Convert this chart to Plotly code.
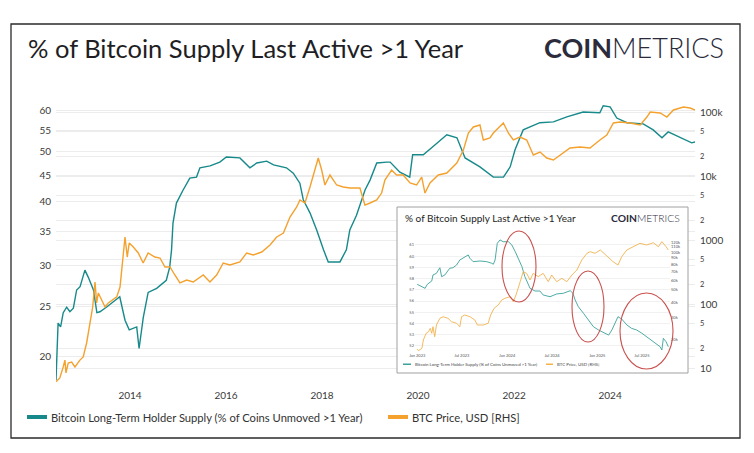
import plotly.graph_objects as go

# ---------------- data ----------------
lth_dates = ["2012-06-17","2012-07-03","2012-07-22","2012-08-11","2012-09-06","2012-10-01","2012-10-27",
    "2012-11-21","2012-12-17","2013-01-23","2013-02-17","2013-03-29","2013-04-24","2013-05-17","2013-07-05",
    "2013-08-25","2013-10-15","2013-11-24","2013-12-26","2014-02-21","2014-03-11","2014-04-12","2014-05-19",
    "2014-07-23","2014-10-04","2014-10-30","2014-11-13","2014-11-24","2014-12-20","2015-02-09","2015-04-01",
    "2015-05-22","2015-06-17","2015-09-02","2015-11-15","2016-01-04","2016-04-16","2016-07-01","2016-08-22",
    "2016-11-06","2016-12-28","2017-04-05","2017-05-27","2017-07-16","2017-08-11","2017-10-01","2017-11-21",
    "2018-01-12","2018-02-17","2018-03-29","2018-05-17","2018-07-05","2018-07-31","2018-09-20","2018-11-10",
    "2018-11-24","2019-01-01","2019-02-21","2019-05-08","2019-06-03","2019-08-16","2019-10-30","2019-11-21",
    "2020-02-10","2020-05-08","2020-08-07","2020-10-23","2020-12-24","2021-04-16","2021-07-27","2021-10-12",
    "2021-12-02","2022-01-08","2022-03-11","2022-07-16","2022-10-27","2023-02-06","2023-06-10","2023-10-15",
    "2023-11-10","2024-01-01","2024-02-21","2024-05-08","2024-09-09","2024-11-24","2025-01-30","2025-03-18",
    "2025-06-17","2025-09-13","2025-10-08"]
lth_pct = [17.96,23.2,22.8,24.3,24.9,24.4,24.8,26.9,27.3,29.4,28.5,26.9,24.3,24.4,24.9,25.5,26.1,23.5,22.5,
    22.8,20.7,23.8,26.6,27.1,28.1,29.8,32.2,36.3,39.7,42.1,44.4,44.6,46.5,46.9,47.7,48.8,48.6,46.5,47.5,47.9,
    47.1,46.5,45.4,43.4,40.3,38.0,35.2,32.2,30.5,30.5,30.5,32.2,35.2,37.6,40.8,42.1,44.0,47.5,47.7,47.7,45.6,
    44.6,49.3,49.3,51.5,53.9,53.2,48.6,46.7,44.6,44.6,46.7,50.4,55.1,56.9,57.1,58.4,59.7,59.5,61.4,61.1,58.1,
    56.9,56.6,55.1,53.2,54.6,53.2,52.0,52.2]

btc_dates = ["2012-06-17","2012-07-16","2012-08-11","2012-08-24","2012-09-01","2012-09-18","2012-10-14",
    "2012-11-08","2012-12-16","2013-01-10","2013-02-05","2013-03-02","2013-03-23","2013-04-10","2013-04-22",
    "2013-05-05","2013-05-31","2013-06-25","2013-07-20","2013-08-15","2013-09-22","2013-10-17","2013-11-06",
    "2013-11-24","2013-12-11","2013-12-26","2014-01-26","2014-03-05","2014-04-11","2014-05-19","2014-07-09",
    "2014-08-17","2014-09-24","2014-11-01","2014-12-08","2015-01-16","2015-03-08","2015-04-27","2015-07-12",
    "2015-09-01","2015-10-22","2015-12-11","2016-01-31","2016-04-16","2016-06-06","2016-07-27","2016-09-29",
    "2016-12-01","2017-01-21","2017-03-13","2017-05-02","2017-06-22","2017-07-17","2017-08-24","2017-10-01",
    "2017-11-08","2017-12-03","2017-12-29","2018-01-23","2018-03-02","2018-04-22","2018-06-11","2018-08-01",
    "2018-10-16","2018-11-23","2019-01-01","2019-02-21","2019-03-30","2019-04-24","2019-06-14","2019-07-22",
    "2019-09-10","2019-11-01","2019-12-21","2020-01-29","2020-02-23","2020-04-01","2020-06-03","2020-08-07",
    "2020-10-22","2020-12-11","2021-01-18","2021-02-25","2021-04-16","2021-05-12","2021-07-01","2021-07-27",
    "2021-10-11","2021-11-18","2021-12-26","2022-02-15","2022-04-07","2022-05-27","2022-07-17","2022-09-06",
    "2022-10-27","2022-12-17","2023-03-02","2023-05-17","2023-08-01","2023-10-16","2023-12-07","2024-01-26",
    "2024-03-17","2024-06-01","2024-08-17","2024-10-07","2024-11-01","2025-01-16","2025-03-08","2025-04-27",
    "2025-07-12","2025-09-01","2025-10-08"]
btc_usd = [6.1,7.0,10.4,13.3,8.4,12.0,12.4,10.4,13.3,14.9,24.6,50.5,89.7,221,104,149,115,90,104,115,129,184,
    437,1114,542,898,778,627,437,627,542,523,379,379,284,213,237,221,284,221,284,437,407,453,627,583,649,835,
    1114,1285,2287,3280,4217,3785,6730,12400,19100,12400,7230,10370,7230,6730,6490,6490,3520,3785,4217,5420,
    8660,12400,10370,10370,7780,7230,9640,5420,7780,10370,11140,15960,25480,46990,58340,62660,36520,39250,
    46990,67290,46990,36520,40660,36520,21300,23710,19100,17780,21300,27380,28390,27380,36520,43730,67290,
    69800,67290,62660,83500,100000,96400,83500,107500,119700,115500,107500]

# inset (zoomed 2023-2025 chart)
inset_lth_dates = ["2023-01-01","2023-01-13","2023-02-02","2023-02-11","2023-03-01","2023-03-06","2023-03-20",
    "2023-04-03","2023-04-10","2023-04-23","2023-05-13","2023-05-26","2023-06-10","2023-06-23","2023-07-13",
    "2023-07-27","2023-08-03","2023-08-16","2023-09-13","2023-10-10","2023-10-30","2023-11-06","2023-11-13",
    "2023-11-22","2023-12-03","2023-12-16","2024-01-06","2024-01-20","2024-02-03","2024-02-16","2024-03-01",
    "2024-03-13","2024-04-03","2024-04-23","2024-05-13","2024-05-26","2024-06-23","2024-07-20","2024-08-16",
    "2024-09-13","2024-09-24","2024-10-03","2024-10-16","2024-11-06","2024-11-26","2024-12-16","2025-01-06",
    "2025-01-26","2025-02-16","2025-03-01","2025-03-13","2025-03-26","2025-04-10","2025-05-01","2025-05-20",
    "2025-06-10","2025-07-01","2025-07-20","2025-08-16","2025-09-13","2025-09-20","2025-09-26","2025-10-07",
    "2025-10-16"]
inset_lth_pct = [57.49,57.37,57.13,57.49,57.79,58.32,58.47,58.97,58.17,58.32,58.92,58.97,59.21,59.66,59.96,
    60.11,59.81,59.51,59.57,59.51,59.37,59.28,59.66,61.15,61.45,61.29,61.29,61.0,60.40,59.81,59.06,58.17,
    57.13,56.89,56.89,56.54,56.38,56.63,56.69,56.92,56.69,56.09,55.49,54.90,54.30,53.71,53.41,53.17,52.96,
    53.41,54.01,54.60,54.39,53.86,53.56,53.41,53.12,52.81,52.37,51.92,51.63,52.67,52.37,51.92]

inset_btc_dates = ["2023-01-01","2023-01-06","2023-01-20","2023-01-26","2023-02-06","2023-02-16","2023-02-23",
    "2023-03-01","2023-03-06","2023-03-13","2023-03-20","2023-04-03","2023-04-16","2023-05-06","2023-05-20",
    "2023-06-10","2023-06-23","2023-06-30","2023-07-13","2023-08-03","2023-08-23","2023-09-02","2023-09-26",
    "2023-10-16","2023-10-26","2023-11-09","2023-11-26","2023-12-10","2023-12-23","2024-01-13","2024-01-26",
    "2024-02-06","2024-02-23","2024-03-06","2024-03-20","2024-04-03","2024-04-16","2024-05-06","2024-05-26",
    "2024-06-16","2024-06-30","2024-07-20","2024-08-10","2024-08-30","2024-09-20","2024-10-10","2024-10-30",
    "2024-11-20","2024-12-03","2024-12-23","2025-01-13","2025-02-10","2025-03-06","2025-03-26","2025-04-10",
    "2025-05-01","2025-05-26","2025-06-23","2025-07-20","2025-08-16","2025-09-06","2025-09-20","2025-10-07",
    "2025-10-16"]
inset_btc_usd = [16960,16440,17180,20000,22620,23290,24790,22620,25520,21240,26340,29780,30670,29780,27980,
    27180,25520,30670,31640,30670,28870,26340,26340,27180,31640,35780,38020,41660,42990,44260,40390,45680,
    58300,70020,68000,60140,68000,63890,68000,58300,65920,58300,62040,58300,65920,72240,86800,98160,101100,
    98160,104300,92240,84150,79190,92240,104300,110800,117900,114300,119200,110800,121500,110800,104300]

left_ticks = [20, 25, 30, 35, 40, 45, 50, 55, 60]
inset_left_ticks = [52, 53, 54, 55, 56, 57, 58, 59, 60, 61]
inset_right_ticks = [20000, 30000, 40000, 50000, 60000, 70000, 80000, 90000, 100000, 110000, 120000]
inset_right_labels = ["20k", "30k", "40k", "50k", "60k", "70k", "80k", "90k", "100k", "110k", "120k"]

title_text = "% of Bitcoin Supply Last Active >1 Year"
lth_name = "Bitcoin Long-Term Holder Supply (% of Coins Unmoved >1 Year)"
btc_name = "BTC Price, USD [RHS]"

# ---------------- layout helpers ----------------
W, H = 754, 453
L, R, T, B = 56, 59, 100, 67
PW, PH = W - L - R, H - T - B


def px(x):
    return (x - L) / PW


def py(y):
    return (H - B - y) / PH


TEAL = "#17898a"
ORANGE = "#f4a12e"
TEAL_I = "#3aa19b"
ORANGE_I = "#f2b24e"
FONT = "Lato"

fig = go.Figure()

# main series
fig.add_trace(go.Scatter(x=lth_dates, y=lth_pct, mode="lines", name=lth_name,
                         line=dict(color=TEAL, width=1.4), xaxis="x", yaxis="y"))
fig.add_trace(go.Scatter(x=btc_dates, y=btc_usd, mode="lines", name=btc_name,
                         line=dict(color=ORANGE, width=1.4), xaxis="x", yaxis="y2"))

# white backing of the inset (overlay axes spanning the main plot area, 0..1)
bx0, bx1, by0, by1 = px(397), px(688), py(373), py(207)
fig.add_trace(go.Scatter(x=[bx0, bx1, bx1, bx0, bx0], y=[by0, by0, by1, by1, by0], mode="lines",
                         fill="toself", fillcolor="white", line=dict(width=0), hoverinfo="skip",
                         showlegend=False, xaxis="x3", yaxis="y5"))

# inset series
fig.add_trace(go.Scatter(x=inset_lth_dates, y=inset_lth_pct, mode="lines", showlegend=False,
                         line=dict(color=TEAL_I, width=0.9), xaxis="x2", yaxis="y3"))
fig.add_trace(go.Scatter(x=inset_btc_dates, y=inset_btc_usd, mode="lines", showlegend=False,
                         line=dict(color=ORANGE_I, width=0.9), xaxis="x2", yaxis="y4"))

GRID = "#ececec"
tickfont = dict(family=FONT, size=10, color="#3a3a3a")
inset_font = dict(family=FONT, size=4, color="#555")

fig.update_layout(
    width=W, height=H,
    margin=dict(l=L, r=R, t=T, b=B),
    paper_bgcolor="white", plot_bgcolor="white",
    showlegend=False,
    font=dict(family=FONT, color="#333"),
    xaxis=dict(type="date", range=["2012-06-17", "2025-10-08"], tickformat="%Y", dtick="M24",
               tick0="2014-01-01", showgrid=False, zeroline=False, showline=False, ticks="",
               tickfont=dict(family=FONT, size=10, color="#3a3a3a"), ticklabelstandoff=2),
    yaxis=dict(type="log", range=[1.2430, 1.7993], tickvals=left_ticks, showgrid=True, gridcolor=GRID,
               zeroline=False, showline=False, ticks="", tickfont=tickfont, ticklabelstandoff=4),
    yaxis2=dict(type="log", range=[0.719, 5.1875], dtick="D2", overlaying="y", side="right", anchor="x",
                showgrid=True, gridcolor=GRID, zeroline=False, showline=False, ticks="",
                tickfont=tickfont, ticklabelstandoff=4),
    xaxis3=dict(overlaying="x", range=[0, 1], visible=False),
    yaxis5=dict(overlaying="y", range=[0, 1], visible=False),
    xaxis2=dict(type="date", domain=[px(415), px(670)], anchor="y3", range=["2022-12-23", "2025-10-23"],
                dtick="M6", tick0="2023-01-01", tickformat="%b %Y", showgrid=False, zeroline=False,
                showline=False, ticks="", tickfont=inset_font),
    yaxis3=dict(domain=[py(352), py(236)], anchor="x2", range=[51.45, 61.80], tickvals=inset_left_ticks,
                showgrid=True, gridcolor="#f1f1f1", zeroline=False, showline=False, ticks="",
                tickfont=inset_font),
    yaxis4=dict(type="log", overlaying="y3", side="right", anchor="x2", range=[4.2055, 5.1297],
                tickvals=inset_right_ticks, ticktext=inset_right_labels, showgrid=False,
                zeroline=False, showline=False, ticks="", tickfont=inset_font),
)

shapes = [
    # outer frame
    dict(type="rect", xref="paper", yref="paper", x0=px(11), x1=px(740), y0=py(438), y1=py(24),
         line=dict(color="#2a2a2a", width=1.3), fillcolor="rgba(0,0,0,0)", layer="above"),
    # inset border
    dict(type="rect", xref="paper", yref="paper", x0=bx0, x1=bx1, y0=by0, y1=by1,
         line=dict(color="#a0a0a0", width=1), fillcolor="rgba(0,0,0,0)", layer="above"),
    # red ellipses
    dict(type="circle", xref="paper", yref="paper", x0=px(502), x1=px(536), y0=py(302), y1=py(231),
         line=dict(color="#c9504e", width=1.1), layer="above"),
    dict(type="circle", xref="paper", yref="paper", x0=px(572), x1=px(604), y0=py(342), y1=py(271),
         line=dict(color="#c9504e", width=1.1), layer="above"),
    dict(type="circle", xref="paper", yref="paper", x0=px(620), x1=px(673), y0=py(369), y1=py(293),
         line=dict(color="#c9504e", width=1.1), layer="above"),
    # main legend swatches
    dict(type="rect", xref="paper", yref="paper", x0=px(27), x1=px(47), y0=py(419), y1=py(415),
         line=dict(width=0), fillcolor=TEAL, layer="above"),
    dict(type="rect", xref="paper", yref="paper", x0=px(388), x1=px(408), y0=py(419), y1=py(415),
         line=dict(width=0), fillcolor=ORANGE, layer="above"),
    # inset legend swatches
    dict(type="rect", xref="paper", yref="paper", x0=px(403), x1=px(411), y0=py(365), y1=py(363.5),
         line=dict(width=0), fillcolor=TEAL_I, layer="above"),
    dict(type="rect", xref="paper", yref="paper", x0=px(546), x1=px(553), y0=py(365), y1=py(363.5),
         line=dict(width=0), fillcolor=ORANGE_I, layer="above"),
]

annotations = [
    dict(text=title_text, xref="paper", yref="paper", x=px(26), y=py(48), xanchor="left", yanchor="middle",
         showarrow=False, font=dict(family=FONT, size=25.5, color="#1e1e24")),
    dict(text="<b>COIN</b>METRICS", xref="paper", yref="paper", x=px(726), y=py(48), xanchor="right",
         yanchor="middle", showarrow=False, font=dict(family=FONT, size=27, color="#2b2b3c", weight=300)),
    dict(text=lth_name, xref="paper", yref="paper", x=px(49), y=py(417), xanchor="left", yanchor="middle",
         showarrow=False, font=dict(family=FONT, size=11.2, color="#333")),
    dict(text=btc_name, xref="paper", yref="paper", x=px(410), y=py(417), xanchor="left", yanchor="middle",
         showarrow=False, font=dict(family=FONT, size=11.2, color="#333")),
    # inset texts
    dict(text=title_text, xref="paper", yref="paper", x=px(403), y=py(218), xanchor="left", yanchor="middle",
         showarrow=False, font=dict(family=FONT, size=10, color="#1e1e24")),
    dict(text="<b>COIN</b>METRICS", xref="paper", yref="paper", x=px(682), y=py(218), xanchor="right",
         yanchor="middle", showarrow=False, font=dict(family=FONT, size=10.3, color="#2b2b3c", weight=300)),
    dict(text=lth_name, xref="paper", yref="paper", x=px(413), y=py(364.3), xanchor="left", yanchor="middle",
         showarrow=False, font=dict(family=FONT, size=4.4, color="#444")),
    dict(text=btc_name, xref="paper", yref="paper", x=px(555), y=py(364.3), xanchor="left", yanchor="middle",
         showarrow=False, font=dict(family=FONT, size=4.4, color="#444")),
]

fig.update_layout(shapes=shapes, annotations=annotations)

fig.write_html("out.html")
